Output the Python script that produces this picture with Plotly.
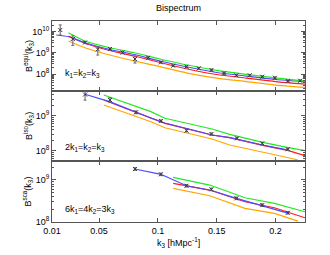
import plotly.graph_objects as go
from plotly.subplots import make_subplots

# ---------------- data ----------------
# panel 1: equilateral  k1=k2=k3
k_equi = [0.0170, 0.0277, 0.0381, 0.0489, 0.0593, 0.0699, 0.0805, 0.0918, 0.1025, 0.1130,
          0.1243, 0.1347, 0.1455, 0.1562, 0.1667, 0.1780, 0.1887, 0.1994, 0.2104, 0.2209]
B_equi = [1.19e10, 4.48e9, 3.06e9, 1.46e9, 1.51e9, 1.03e9, 5.1e8, 5.87e8, 3.56e8, 2.47e8,
          2.21e8, 1.86e8, 1.55e8, 1.08e8, 8.7e7, 8.7e7, 7.46e7, 6.68e7, 4.68e7, 4.83e7]
errup_equi = [0.24, 0.15, 0.05, 0.12, 0.04, 0.05, 0.14, 0.05, 0.04, 0.04,
              0.04, 0.04, 0.04, 0.05, 0.04, 0.04, 0.04, 0.04, 0.04, 0.04]
errdn_equi = [0.24, 0.30, 0.05, 0.27, 0.04, 0.05, 0.19, 0.05, 0.04, 0.04,
              0.04, 0.04, 0.04, 0.05, 0.04, 0.04, 0.04, 0.04, 0.04, 0.04]

k_line1 = [0.024, 0.038, 0.059, 0.08, 0.10, 0.125, 0.15, 0.175, 0.2, 0.225]
green1 = [8.87e9, 3.61e9, 1.74e9, 1.01e9, 5.38e8, 2.66e8, 1.48e8, 9.68e7, 6.62e7, 4.68e7]
red1 = [6.2e9, 2.81e9, 1.28e9, 7.06e8, 3.68e8, 1.72e8, 9.47e7, 6.47e7, 4.43e7, 3.37e7]
orange1 = [3.61e9, 1.74e9, 7.87e8, 4.1e8, 2.38e8, 1.11e8, 6.47e7, 4.43e7, 3.03e7, 2.36e7]
k_blue1 = [0.0136, 0.024, 0.038, 0.059, 0.08, 0.10, 0.125, 0.15, 0.175, 0.2, 0.225]
blue1 = [6.92e9, 5.74e9, 2.99e9, 1.43e9, 8.32e8, 4.33e8, 2.14e8, 1.18e8, 8.05e7, 5.51e7, 4.34e7]

# panel 2: isosceles 2k1=k2=k3
k_iso = [0.0381, 0.0593, 0.0813, 0.1025, 0.1243, 0.1455, 0.1672, 0.1887, 0.2104]
B_iso = [4.07e9, 2.84e9, 1.26e9, 7.13e8, 3.77e8, 3.03e8, 2.28e8, 1.64e8, 1.11e8]
errup_iso = [0.10, 0.066, 0.04, 0.03, 0.03, 0.03, 0.03, 0.03, 0.03]
errdn_iso = [0.16, 0.066, 0.04, 0.03, 0.03, 0.03, 0.03, 0.03, 0.03]

k_line2 = [0.054, 0.094, 0.106, 0.146, 0.161, 0.189, 0.211, 0.225]
green2 = [3.94e9, 1.32e9, 8.51e8, 4.21e8, 2.97e8, 1.75e8, 1.23e8, 1.01e8]
red2 = [2.84e9, 8.51e8, 6.12e8, 2.84e8, 2.38e8, 1.44e8, 1.01e8, 7.26e7]
k_orange2 = [0.054, 0.094, 0.106, 0.146, 0.161, 0.189, 0.211, 0.219]
orange2 = [2.04e9, 6.81e8, 4.58e8, 2.18e8, 1.47e8, 9.46e7, 6.37e7, 5.48e7]
k_blue2 = [0.038, 0.059, 0.094, 0.106, 0.146, 0.161, 0.189, 0.210]
blue2 = [4.13e9, 2.54e9, 8.69e8, 6.25e8, 2.84e8, 2.4e8, 1.47e8, 1.06e8]

# panel 3: scalene 6k1=4k2=3k3
k_sca = [0.0805, 0.1025, 0.1243, 0.1455, 0.1667, 0.1887, 0.2104]
B_sca = [1.82e9, 1.36e9, 7.28e8, 5.97e8, 3.65e8, 2.52e8, 1.66e8]
err_sca = [0.03, 0.03, 0.03, 0.03, 0.03, 0.03, 0.03]

k_line3 = [0.113, 0.144, 0.174, 0.199, 0.225]
green3 = [1.15e9, 7.56e8, 3.77e8, 2.77e8, 1.75e8]
red3 = [8.3e8, 5.75e8, 3.03e8, 2.18e8, 1.26e8]
k_orange3 = [0.113, 0.144, 0.174, 0.199, 0.219]
orange3 = [6.31e8, 4.21e8, 2.11e8, 1.6e8, 1.05e8]
k_blue3 = [0.0805, 0.1025, 0.1243, 0.1455, 0.1667, 0.1887, 0.2104]
blue3 = [1.82e9, 1.36e9, 7.28e8, 5.6e8, 3.65e8, 2.45e8, 1.63e8]

x_ticks = [0.01, 0.05, 0.1, 0.15, 0.2]
x_ticktext = ["0.01", "0.05", "0.1", "0.15", "0.2"]
y_titles = ["B<sup>equi</sup>(k<sub>3</sub>)", "B<sup>iso</sup>(k<sub>3</sub>)", "B<sup>sca</sup>(k<sub>3</sub>)"]
panel_labels = ["k<sub>1</sub>=k<sub>2</sub>=k<sub>3</sub>",
                "2k<sub>1</sub>=k<sub>2</sub>=k<sub>3</sub>",
                "6k<sub>1</sub>=4k<sub>2</sub>=3k<sub>3</sub>"]

# ---------------- styling ----------------
FONT = "Liberation Sans, Arial, sans-serif"
C_GREEN = "#22e822"
C_BLUE = "#4a4aff"
C_RED = "#ff1a1a"
C_ORANGE = "#ffa500"
C_PTS = "#3a3a3a"
AX = "#555555"

fig = make_subplots(rows=3, cols=1, shared_xaxes=True, vertical_spacing=0,
                    row_heights=[70, 70, 61])


def add_line(row, x, y, color, shape="spline"):
    fig.add_trace(go.Scatter(x=x, y=y, mode="lines",
                             line=dict(color=color, width=1.2, shape=shape, smoothing=0.6),
                             showlegend=False, hoverinfo="skip"), row=row, col=1)


def add_pts(row, x, y, up, dn):
    ep = [v * (10 ** u - 1) for v, u in zip(y, up)]
    em = [v * (1 - 10 ** (-d)) for v, d in zip(y, dn)]
    fig.add_trace(go.Scatter(x=x, y=y, mode="markers",
                             marker=dict(symbol="x-thin", size=4, color=C_PTS,
                                         line=dict(color=C_PTS, width=1)),
                             error_y=dict(type="data", array=ep, arrayminus=em, symmetric=False,
                                          color="#666666", thickness=1, width=1.5),
                             showlegend=False, hoverinfo="skip"), row=row, col=1)


# panel 1
add_line(1, k_line1, orange1, C_ORANGE)
add_line(1, k_line1, red1, C_RED)
add_line(1, k_blue1, blue1, C_BLUE)
add_line(1, k_line1, green1, C_GREEN)
add_pts(1, k_equi, B_equi, errup_equi, errdn_equi)

# panel 2
add_line(2, k_orange2, orange2, C_ORANGE, "linear")
add_line(2, k_line2, green2, C_GREEN, "linear")
add_line(2, k_line2, red2, C_RED, "linear")
add_line(2, k_blue2, blue2, C_BLUE, "linear")
add_pts(2, k_iso, B_iso, errup_iso, errdn_iso)

# panel 3
add_line(3, k_orange3, orange3, C_ORANGE, "linear")
add_line(3, k_line3, green3, C_GREEN, "linear")
add_line(3, k_line3, red3, C_RED, "linear")
add_line(3, k_blue3, blue3, C_BLUE, "linear")
add_pts(3, k_sca, B_sca, err_sca, err_sca)

minor_vals = [m * 10 ** e for e in range(7, 11) for m in range(2, 10)]
y_ranges = [[7.2, 10.5], [7.71, 9.71], [8.0, 9.45]]
y_major = [[1e8, 1e9, 1e10], [1e8, 1e9], [1e8, 1e9]]
y_major_txt = [["10<sup>8</sup>", "10<sup>9</sup>", "10<sup>10</sup>"],
               ["10<sup>8</sup>", "10<sup>9</sup>"],
               ["10<sup>8</sup>", "10<sup>9</sup>"]]

for r in range(1, 4):
    fig.update_yaxes(type="log", range=y_ranges[r - 1],
                     tickmode="array", tickvals=y_major[r - 1], ticktext=y_major_txt[r - 1],
                     ticks="inside", ticklen=4, tickcolor=AX, tickwidth=1,
                     minor=dict(tickmode="array", tickvals=minor_vals, ticks="inside",
                                ticklen=2, tickcolor=AX, showgrid=False),
                     showline=True, linecolor=AX, linewidth=1, mirror="ticks",
                     showgrid=False, zeroline=False,
                     tickfont=dict(size=9, color="black", family=FONT),
                     row=r, col=1)
    fig.update_xaxes(range=[0.01, 0.225], tickmode="array", tickvals=x_ticks,
                     ticktext=x_ticktext, showticklabels=(r == 3),
                     ticks="inside", ticklen=4, tickcolor=AX, tickwidth=1,
                     showline=True, linecolor=AX, linewidth=1, mirror="ticks",
                     showgrid=False, zeroline=False,
                     tickfont=dict(size=9, color="black", family=FONT),
                     row=r, col=1)

annotations = []
# y-axis titles
domains = ["y domain", "y2 domain", "y3 domain"]
for i in range(3):
    annotations.append(dict(text=y_titles[i], xref="paper", yref=domains[i],
                            x=-0.095, y=0.5, xanchor="center", yanchor="middle",
                            textangle=-90, showarrow=False,
                            font=dict(size=9, color="black", family=FONT)))
# panel labels
label_y = [0.257, 0.2, 0.197]
for i in range(3):
    annotations.append(dict(text=panel_labels[i], xref="paper", yref=domains[i],
                            x=0.042, y=label_y[i], xanchor="left", yanchor="middle",
                            showarrow=False, font=dict(size=9, color="black", family=FONT)))
# x-axis title
annotations.append(dict(text="k<sub>3</sub> [hMpc<sup>-1</sup>]", xref="paper", yref="paper",
                        x=0.5, y=-0.1, xanchor="center", yanchor="middle", showarrow=False,
                        font=dict(size=9, color="black", family=FONT)))
# title
annotations.append(dict(text="Bispectrum", xref="paper", yref="paper",
                        x=0.5, y=1.065, xanchor="center", yanchor="middle", showarrow=False,
                        font=dict(size=9, color="black", family=FONT)))

fig.update_layout(width=330, height=255,
                  margin=dict(l=52, r=25, t=21, b=33, autoexpand=False),
                  paper_bgcolor="white", plot_bgcolor="white",
                  showlegend=False, annotations=annotations,
                  font=dict(family=FONT, size=9, color="black"))

# remove the default 8px page margin so the figure sits at the window origin
fig.write_html("out.html",
               config={"displayModeBar": False, "staticPlot": True},
               post_script="document.body.style.margin='0px';document.body.style.overflow='hidden';")
